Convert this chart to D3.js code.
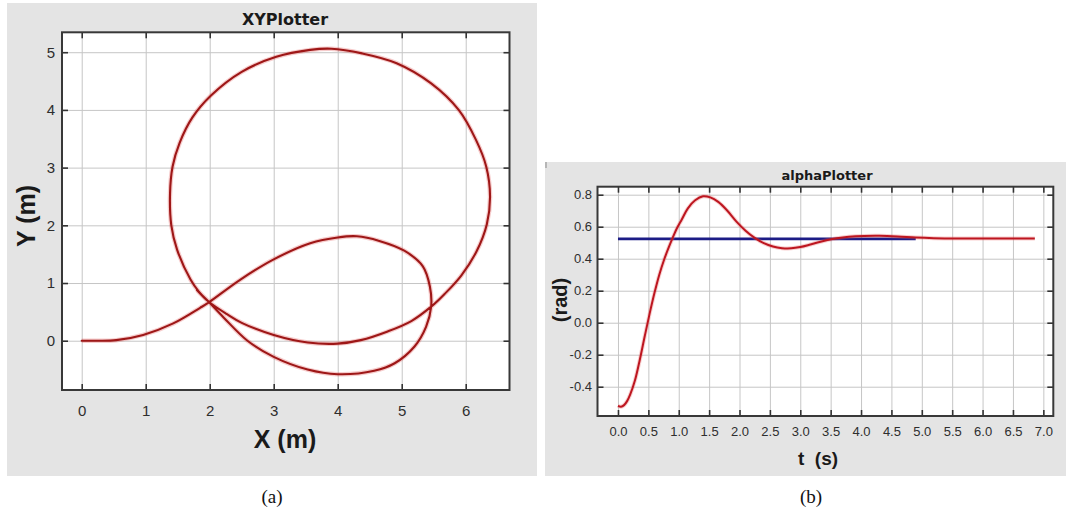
<!DOCTYPE html>
<html>
<head>
<meta charset="utf-8">
<script src="https://cdn.jsdelivr.net/npm/d3@7"></script>
<style>
  html, body { margin: 0; padding: 0; background: #ffffff; }
  svg { display: block; }
</style>
</head>
<body>
<svg id="fig" width="1068" height="516"></svg>
<script>
// ---- XY trajectory of the vehicle (metres), in travel order ----
const pathX = [0, 0.25, 0.54, 0.96, 1.43, 1.85, 1.98, 2.48, 3.0, 3.57, 4.0, 4.3, 4.65, 5.04, 5.33, 5.44, 5.46, 5.38, 5.2, 4.89, 4.57, 4.0, 3.53, 3.0, 2.59, 2.22, 1.98, 1.83, 1.70, 1.49, 1.40, 1.38, 1.42, 1.53, 1.73, 2.02, 2.5, 3.04, 3.57, 3.9, 4.38, 4.92, 5.46, 5.89, 6.16, 6.32, 6.38, 6.33, 6.17, 5.93, 5.67, 5.46, 5.15, 4.78, 4.36, 4.0, 3.53, 3.0, 2.5, 2.27, 1.98, 1.80];
const pathY = [0, 0.0, 0.01, 0.10, 0.30, 0.57, 0.66, 1.06, 1.41, 1.69, 1.79, 1.81, 1.73, 1.56, 1.29, 0.94, 0.59, 0.24, -0.10, -0.39, -0.52, -0.58, -0.50, -0.28, 0.0, 0.40, 0.68, 0.85, 1.06, 1.58, 2.0, 2.55, 3.02, 3.43, 3.87, 4.25, 4.66, 4.92, 5.04, 5.06, 4.98, 4.81, 4.46, 4.0, 3.48, 3.02, 2.5, 2.02, 1.55, 1.13, 0.81, 0.59, 0.34, 0.16, 0.01, -0.05, -0.03, 0.10, 0.31, 0.46, 0.68, 0.88];

// ---- heading angle alpha(t) (rad) and its reference ----
const alphaT = [0, 0.05, 0.1, 0.15, 0.2, 0.28, 0.36, 0.44, 0.52, 0.6, 0.68, 0.76, 0.84, 0.9, 0.97, 1.05, 1.15, 1.27, 1.4, 1.52, 1.65, 1.8, 1.95, 2.1, 2.25, 2.4, 2.55, 2.7, 2.85, 3.0, 3.15, 3.3, 3.45, 3.6, 3.8, 4.05, 4.3, 4.6, 4.9, 5.2, 5.6, 6.2, 6.86];
const alphaV = [-0.52, -0.525, -0.515, -0.49, -0.45, -0.36, -0.23, -0.085, 0.055, 0.185, 0.30, 0.395, 0.475, 0.53, 0.59, 0.645, 0.715, 0.765, 0.79, 0.783, 0.755, 0.70, 0.632, 0.575, 0.53, 0.497, 0.476, 0.466, 0.465, 0.473, 0.487, 0.503, 0.517, 0.528, 0.537, 0.542, 0.543, 0.539, 0.532, 0.528, 0.526, 0.526, 0.526];
const refT = [0, 4.9];
const refV = [0.524, 0.524];

// ---- tick values and labels ----
const xyXTicks = [0, 1, 2, 3, 4, 5, 6];
const xyYTicks = [0, 1, 2, 3, 4, 5];
const tTicks = [0, 0.5, 1, 1.5, 2, 2.5, 3, 3.5, 4, 4.5, 5, 5.5, 6, 6.5, 7];
const tTickLabels = ["0.0", "0.5", "1.0", "1.5", "2.0", "2.5", "3.0", "3.5", "4.0", "4.5", "5.0", "5.5", "6.0", "6.5", "7.0"];
const radTicks = [-0.4, -0.2, 0, 0.2, 0.4, 0.6, 0.8];
const radTickLabels = ["-0.4", "-0.2", "0.0", "0.2", "0.4", "0.6", "0.8"];

const svg = d3.select("#fig");

// Draws the grey window, white plot area, grid, inward ticks and labels.
function frame(o) {
  const [l, t, r, b] = o.plot;
  const g = svg.append("g");
  g.append("rect")
    .attr("x", o.panel[0]).attr("y", o.panel[1])
    .attr("width", o.panel[2] - o.panel[0]).attr("height", o.panel[3] - o.panel[1])
    .attr("fill", "#e4e4e4");
  g.append("rect")
    .attr("x", l).attr("y", t).attr("width", r - l).attr("height", b - t)
    .attr("fill", "#ffffff");

  const clean = s => { s.select(".domain").remove(); };

  // grid
  g.append("g").attr("transform", `translate(0,${b})`)
    .call(d3.axisBottom(o.x).tickValues(o.xTicks).tickSize(-(b - t)).tickFormat(""))
    .call(clean)
    .call(s => s.selectAll("line").attr("stroke", "#c6c6c6").attr("stroke-width", 1));
  g.append("g").attr("transform", `translate(${l},0)`)
    .call(d3.axisLeft(o.y).tickValues(o.yTicks).tickSize(-(r - l)).tickFormat(""))
    .call(clean)
    .call(s => s.selectAll("line").attr("stroke", "#c6c6c6").attr("stroke-width", 1));

  const layer = g.append("g");
  const clipId = o.id + "-clip";
  g.append("clipPath").attr("id", clipId)
    .append("rect").attr("x", l).attr("y", t).attr("width", r - l).attr("height", b - t);
  layer.attr("clip-path", `url(#${clipId})`);

  const tickStyle = s => s.selectAll("line").attr("stroke", "#333").attr("stroke-width", 1.6);
  const textStyle = s => s.selectAll("text")
    .attr("font-family", "'Liberation Sans', Arial, sans-serif")
    .attr("font-size", o.tickFont).attr("fill", "#2e2e2e");

  const axes = g.append("g");
  axes.append("g").attr("transform", `translate(0,${b})`)
    .call(d3.axisBottom(o.x).tickValues(o.xTicks).tickSize(-6).tickPadding(o.xPad).tickFormat(o.xFmt))
    .call(clean).call(tickStyle).call(textStyle);
  axes.append("g").attr("transform", `translate(0,${t})`)
    .call(d3.axisTop(o.x).tickValues(o.xTicks).tickSize(-6).tickFormat(""))
    .call(clean).call(tickStyle);
  axes.append("g").attr("transform", `translate(${l},0)`)
    .call(d3.axisLeft(o.y).tickValues(o.yTicks).tickSize(-6).tickPadding(o.yPad).tickFormat(o.yFmt))
    .call(clean).call(tickStyle).call(textStyle);
  axes.append("g").attr("transform", `translate(${r},0)`)
    .call(d3.axisRight(o.y).tickValues(o.yTicks).tickSize(-6).tickFormat(""))
    .call(clean).call(tickStyle);
  axes.selectAll("g").attr("font-family", null).attr("font-size", null);

  axes.append("rect")
    .attr("x", l).attr("y", t).attr("width", r - l).attr("height", b - t)
    .attr("fill", "none").attr("stroke", "#383838").attr("stroke-width", 2);

  // title
  g.append("text")
    .attr("x", o.title.x).attr("y", o.title.y)
    .attr("text-anchor", "middle")
    .attr("font-family", "'DejaVu Sans', Verdana, sans-serif")
    .attr("font-weight", "bold").attr("font-size", o.title.size)
    .attr("fill", "#1a1a1a")
    .text(o.title.text);

  // axis titles
  g.append("text")
    .attr("x", o.xLabel.x).attr("y", o.xLabel.y)
    .attr("text-anchor", "middle")
    .attr("font-family", "'Liberation Sans', Arial, sans-serif")
    .attr("font-weight", "bold").attr("font-size", o.xLabel.size)
    .attr("fill", "#1a1a1a")
    .style("white-space", "pre")
    .text(o.xLabel.text);
  g.append("text")
    .attr("transform", `translate(${o.yLabel.x},${o.yLabel.y}) rotate(-90)`)
    .attr("text-anchor", "middle")
    .attr("font-family", "'Liberation Sans', Arial, sans-serif")
    .attr("font-weight", "bold").attr("font-size", o.yLabel.size)
    .attr("fill", "#1a1a1a")
    .text(o.yLabel.text);

  return layer;
}

// ---------- (a) XY plot ----------
const xyX = d3.scaleLinear().domain([-0.308, 6.684]).range([62, 509.5]);
const xyY = d3.scaleLinear().domain([-0.854, 5.345]).range([390, 32.3]);

const xyLayer = frame({
  id: "xy",
  panel: [7, 3, 537, 476],
  plot: [62, 32.3, 509.5, 390],
  x: xyX, y: xyY,
  xTicks: xyXTicks, yTicks: xyYTicks,
  xFmt: d => String(d), yFmt: d => String(d),
  xPad: 15, yPad: 7, tickFont: 15,
  title: { text: "XYPlotter", x: 285, y: 25, size: 16 },
  xLabel: { text: "X (m)", x: 285, y: 448, size: 25 },
  yLabel: { text: "Y (m)", x: 35, y: 216, size: 25 }
});

const xyPts = pathX.map((d, i) => [d, pathY[i]]);
const xyLine = d3.line()
  .x(d => xyX(d[0])).y(d => xyY(d[1]))
  .curve(d3.curveCatmullRom.alpha(0.5));

xyLayer.append("path").datum(xyPts)
  .attr("d", xyLine).attr("fill", "none")
  .attr("stroke", "#e25555").attr("stroke-opacity", 0.3)
  .attr("stroke-width", 4.5).attr("stroke-linejoin", "round");
xyLayer.append("path").datum(xyPts)
  .attr("d", xyLine).attr("fill", "none")
  .attr("stroke", "#9e1717").attr("stroke-width", 2.1)
  .attr("stroke-linejoin", "round").attr("stroke-linecap", "round");

// ---------- (b) alpha plot ----------
const tX = d3.scaleLinear().domain([-0.337, 7.164]).range([597.5, 1053.3]);
const aY = d3.scaleLinear().domain([-0.583, 0.85]).range([416, 186.7]);

const aLayer = frame({
  id: "alpha",
  panel: [545, 162, 1066, 476],
  plot: [597.5, 186.7, 1053.3, 416],
  x: tX, y: aY,
  xTicks: tTicks, yTicks: radTicks,
  xFmt: (d, i) => tTickLabels[i], yFmt: (d, i) => radTickLabels[i],
  xPad: 11, yPad: 5.5, tickFont: 13,
  title: { text: "alphaPlotter", x: 827, y: 180, size: 13 },
  xLabel: { text: "t  (s)", x: 818, y: 465, size: 19 },
  yLabel: { text: "(rad)", x: 567, y: 300, size: 20 }
});

const refLine = d3.line().x((d, i) => tX(refT[i])).y((d, i) => aY(refV[i]));
aLayer.append("path").datum(refT)
  .attr("d", refLine).attr("fill", "none")
  .attr("stroke", "#1c1c86").attr("stroke-width", 2.8);

const alphaLine = d3.line()
  .x((d, i) => tX(alphaT[i])).y((d, i) => aY(alphaV[i]))
  .curve(d3.curveCatmullRom.alpha(0.5));
aLayer.append("path").datum(alphaT)
  .attr("d", alphaLine).attr("fill", "none")
  .attr("stroke", "#e86060").attr("stroke-opacity", 0.3)
  .attr("stroke-width", 4);
aLayer.append("path").datum(alphaT)
  .attr("d", alphaLine).attr("fill", "none")
  .attr("stroke", "#bd1620").attr("stroke-width", 2)
  .attr("stroke-linejoin", "round");

// small mark at the top-left of the second window
svg.append("line").attr("x1", 546).attr("x2", 546).attr("y1", 162).attr("y2", 168)
  .attr("stroke", "#888").attr("stroke-width", 1);

// ---------- sub-figure captions ----------
const captions = [{ text: "(a)", x: 272 }, { text: "(b)", x: 811 }];
svg.selectAll("text.caption").data(captions).enter().append("text")
  .attr("class", "caption")
  .attr("x", d => d.x).attr("y", 503)
  .attr("text-anchor", "middle")
  .attr("font-family", "'Liberation Serif', 'DejaVu Serif', serif")
  .attr("font-size", 19).attr("fill", "#111")
  .text(d => d.text);
</script>
</body>
</html>
